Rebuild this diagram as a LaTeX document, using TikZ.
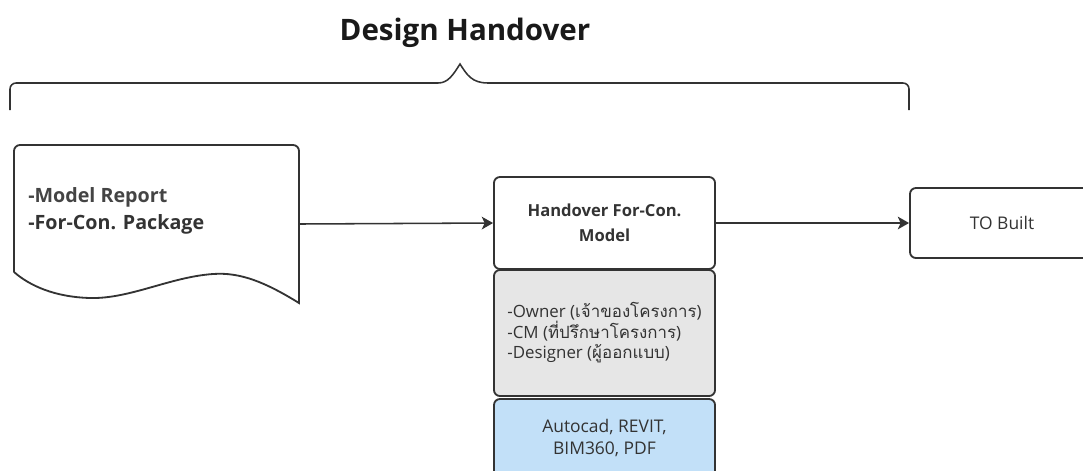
\documentclass[tikz,border=0pt]{standalone}
\usepackage{fontspec}
\setmainfont{Open Sans}
\newfontfamily\thaifont[Script=Thai]{Loma}
\usetikzlibrary{arrows.meta}

\definecolor{inkgray}{HTML}{333333}
\definecolor{softink}{HTML}{444444}
\definecolor{teamgray}{HTML}{E6E6E6}
\definecolor{toolblue}{HTML}{C2E0F8}

\tikzset{
  outline/.style={draw=inkgray, line width=1.3pt},
  stagebox/.style={outline, rounded corners=0.15cm, minimum width=5.525cm, align=center, text=inkgray, inner sep=0pt},
  flow/.style={draw=inkgray, line width=1.1pt, -{Stealth[length=8pt,width=9pt,inset=2pt]}},
}

\begin{document}
\begin{tikzpicture}[x=0.025cm, y=-0.025cm]
            				\clip (0,0) rectangle (1083,470);
            				\fill[white] (0,0) rectangle (1083,470);
            				% title and brace
            				\node[text=black!90, font=\bfseries\fontsize{21}{25}\selectfont] (title) at (465,33) {Design Handover};
            				\draw[outline, line width=1.1pt, rounded corners=0.15cm] (10,110) -- (10,83) -- (432,83) [sharp corners] .. controls (448,83) and (453,75) .. (460,64) .. controls (467,75) and (472,83) .. (488,83) [rounded corners=0.15cm] -- (909,83) -- (909,110);
            				% document shape
            				\node[minimum width=7.125cm, minimum height=3.95cm] (report) at (156.5,224) {};
            				\draw[outline, fill=white] (14,272) [rounded corners=0.15cm] -- (14,145) -- (299,145) [sharp corners] -- (299,303) .. controls (265,282) and (240,272) .. (213,274) .. controls (170,277) and (130,299) .. (90,298) .. controls (55,297) and (30,286) .. (14,272);
            				\node[anchor=west, align=left, inner sep=0pt, text=inkgray, font=\bfseries\fontsize{14}{19.2}\selectfont] (reportnote) at (28,211) {\textcolor{softink}{-Model Report}\\-For-Con. Package};
            				% middle column
            				\node[stagebox, fill=white, minimum height=2.3cm, font=\bfseries\fontsize{11.8}{17.8}\selectfont] (handover) at (604.5,223) {Handover For-Con.\\Model};
            				\node[stagebox, fill=teamgray, minimum height=3.15cm, align=left, font=\fontsize{12}{14.6}\selectfont] (team) at (604.5,333) {-Owner ({\thaifont เจ้าของโครงการ})\\-CM ({\thaifont ที่ปรึกษาโครงการ})\\-Designer ({\thaifont ผู้ออกแบบ})};
            				\node[stagebox, fill=toolblue, minimum height=1.95cm, font=\fontsize{12.4}{15.6}\selectfont] (tools) at (604.5,438) {Autocad, REVIT,\\BIM360, PDF};
            				% right box
            				\node[stagebox, fill=white, minimum width=4.6cm, minimum height=1.75cm, font=\fontsize{12.4}{14}\selectfont] (built) at (1002,223) {TO Built};
            				\draw[flow] (report.east) -- (handover.west);
            				\draw[flow] (handover.east) -- (built.west);
            			\end{tikzpicture}
\end{document}
